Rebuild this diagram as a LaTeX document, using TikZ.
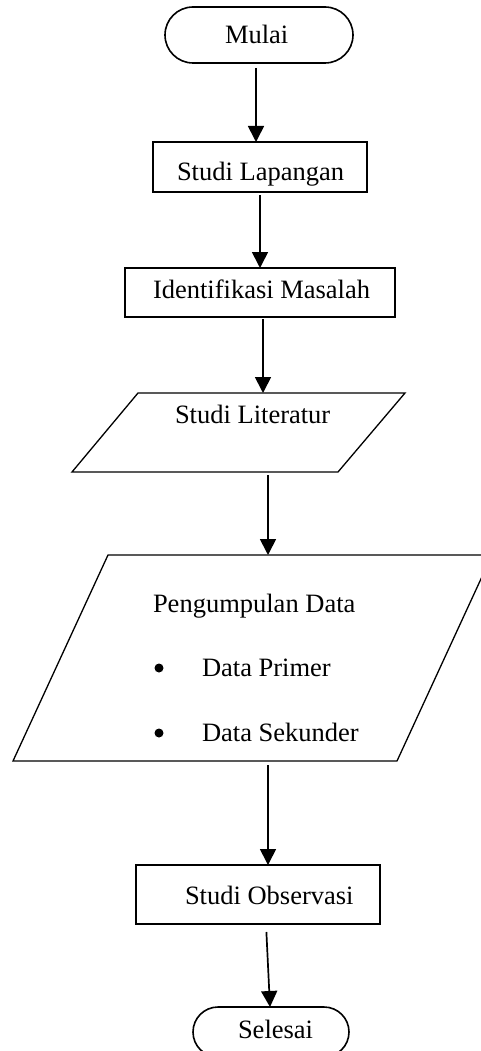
\documentclass[tikz,border=0pt]{standalone}
\usepackage{fontspec}
\setmainfont{Liberation Serif}
\usetikzlibrary{arrows.meta,shapes.misc}
\begin{document}
\begin{tikzpicture}[x=1pt,y=-1pt,
  every node/.style={font=\fontsize{26.5}{30}\selectfont, inner sep=0pt, outer sep=0pt},
  boxline/.style={draw, line width=1.6pt},
  paraline/.style={draw, line width=1.3pt, line join=miter},
  term/.style={boxline, rounded rectangle},
  procbox/.style={boxline, rectangle},
  lbl/.style={anchor=base west},
  bullet/.style={circle, fill, minimum size=9pt},
  arr/.style={line width=1.7pt, -{Triangle[length=16pt,width=16pt]}}]
\useasboundingbox (0,0) rectangle (481,1051);

% shapes
\node[term, minimum width=188pt, minimum height=56pt] (mulai) at (259,35) {};
\node[procbox, minimum width=214pt, minimum height=50pt] (lap) at (260,167) {};
\node[procbox, minimum width=270pt, minimum height=49pt] (idm) at (260,292.5) {};
\draw[paraline] (138,393) -- (405,393) -- (338,472) -- (72,472) -- cycle;
\coordinate (litT) at (271,393);
\coordinate (litB) at (205,472);
\draw[paraline] (108,555) -- (492,555) -- (397,761) -- (13,761) -- cycle;
\coordinate (pdT) at (300,555);
\coordinate (pdB) at (205,761);
\node[procbox, minimum width=244pt, minimum height=59pt] (obs) at (258,894.5) {};
\node[term, minimum width=156pt, minimum height=50pt] (sel) at (271,1032) {};

% texts
\node[lbl] (tmulai) at (225,44) {Mulai};
\node[lbl] (tlap) at (177,180) {Studi Lapangan};
\node[lbl] (tidm) at (153,298) {Identifikasi Masalah};
\node[lbl] (tlit) at (175,423) {Studi Literatur};
\node[lbl] (tpd) at (153,612) {Pengumpulan Data};
\node[bullet] (b1) at (159,668) {};
\node[lbl] (tprim) at (202,676) {Data Primer};
\node[bullet] (b2) at (159,733) {};
\node[lbl] (tsek) at (202,741) {Data Sekunder};
\node[lbl] (tobs) at (185,904) {Studi Observasi};
\node[lbl] (tsel) at (238,1038) {Selesai};

% arrow columns
\coordinate (k1) at (256,0);
\coordinate (k2) at (260,0);
\coordinate (k3) at (263,0);
\coordinate (k4) at (268,0);
\coordinate (k6a) at (266,0);
\coordinate (k6b) at (270,0);

% connectors
\draw[arr, shorten <=5pt] (mulai.south -| k1) -- (lap.north -| k1);
\draw[arr, shorten <=3pt] (lap.south -| k2) -- (idm.north -| k2);
\draw[arr, shorten <=2pt] (idm.south -| k3) -- (litT -| k3);
\draw[arr, shorten <=3pt] (litB -| k4) -- (pdT -| k4);
\draw[arr, shorten <=4pt] (pdB -| k4) -- (obs.north -| k4);
\draw[arr, shorten <=8pt] (obs.south -| k6a) -- (sel.north -| k6b);
\end{tikzpicture}
\end{document}
